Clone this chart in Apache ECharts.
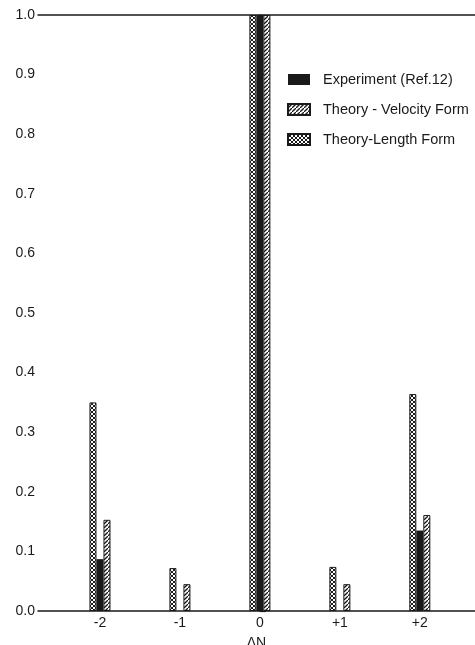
<!DOCTYPE html>
<html>
<head>
<meta charset="utf-8">
<script src="https://cdn.jsdelivr.net/npm/echarts@6/dist/echarts.min.js"></script>
<style>
  html, body { margin: 0; padding: 0; background: #fff; }
  #chart { width: 475px; height: 645px; }
</style>
</head>
<body>
<div id="chart"></div>
<script>
// delta N positions and the measured / computed fractions
const deltaN = [-2, -1, 0, 1, 2];
const experiment = [0.087, null, 1.0, null, 0.135];
const velocityForm = [0.153, 0.045, 1.0, 0.045, 0.161];
const lengthForm = [0.35, 0.072, 1.0, 0.074, 0.364];
const yTicks = [0, 0.1, 0.2, 0.3, 0.4, 0.5, 0.6, 0.7, 0.8, 0.9, 1.0];

const ink = '#1a1a1a';
const font = 'Liberation Sans';

// hatch fills
function makePattern(cross) {
    const c = document.createElement('canvas');
    c.width = 4;
    c.height = 4;
    const ctx = c.getContext('2d');
    ctx.fillStyle = '#fff';
    ctx.fillRect(0, 0, 4, 4);
    ctx.strokeStyle = ink;
    ctx.lineWidth = cross ? 1 : 1.3;
    ctx.beginPath();
    ctx.moveTo(-1, 5); ctx.lineTo(5, -1);
    if (cross) {
        ctx.moveTo(-1, -1); ctx.lineTo(5, 5);
    }
    ctx.stroke();
    return { image: c, repeat: 'repeat' };
}

const pair = (vals) => deltaN.map((x, i) => [x, vals[i]]);

const chart = echarts.init(document.getElementById('chart'));
chart.setOption({
    animation: false,
    backgroundColor: '#fff',
    textStyle: { fontFamily: font },
    grid: { left: 38, right: 0, top: 15, bottom: 34, outerBoundsMode: 'none' },
    legend: {
        orient: 'vertical',
        left: 287,
        top: 72,
        padding: 0,
        itemGap: 15,
        itemWidth: 22,
        itemHeight: 11,
        icon: 'rect',
        data: ['Experiment (Ref.12)', 'Theory - Velocity Form', 'Theory-Length Form'],
        textStyle: { color: ink, fontSize: 14.5, fontFamily: font, padding: [0, 0, 0, 8] }
    },
    xAxis: [
        {
            type: 'value',
            min: -2.775,
            max: 2.69,
            name: 'ΔN',
            nameLocation: 'middle',
            nameGap: 25,
            nameTextStyle: { color: ink, fontSize: 14 },
            axisLine: { show: true, onZero: false, lineStyle: { color: ink, width: 1.5 } },
            axisTick: { show: false },
            splitLine: { show: false },
            axisLabel: {
                customValues: deltaN,
                color: ink,
                fontSize: 14,
                margin: 5,
                formatter: (v) => (v > 0 ? '+' + v : String(v))
            }
        },
        {
            type: 'value',
            position: 'top',
            min: -2.775,
            max: 2.69,
            axisLine: { show: true, onZero: false, lineStyle: { color: ink, width: 1.5 } },
            axisTick: { show: false },
            axisLabel: { show: false },
            splitLine: { show: false }
        }
    ],
    yAxis: {
        type: 'value',
        min: 0,
        max: 1,
        interval: 0.1,
        axisLine: { show: true, lineStyle: { color: ink, width: 1.5 } },
        axisTick: { show: true, inside: true, length: 6, lineStyle: { color: ink, width: 1.2 } },
        splitLine: { show: false },
        axisLabel: {
            color: ink,
            fontSize: 14,
            margin: 3,
            customValues: yTicks,
            formatter: (v) => v.toFixed(1)
        }
    },
    series: [
        {
            name: 'Theory-Length Form',
            type: 'bar',
            data: pair(lengthForm),
            barWidth: 7,
            barGap: '0%',
            itemStyle: { color: makePattern(true), borderColor: ink, borderWidth: 1 }
        },
        {
            name: 'Experiment (Ref.12)',
            type: 'bar',
            data: pair(experiment),
            barWidth: 7,
            barGap: '0%',
            itemStyle: { color: ink }
        },
        {
            name: 'Theory - Velocity Form',
            type: 'bar',
            data: pair(velocityForm),
            barWidth: 7,
            barGap: '0%',
            itemStyle: { color: makePattern(false), borderColor: ink, borderWidth: 1 }
        }
    ]
});
</script>
</body>
</html>
